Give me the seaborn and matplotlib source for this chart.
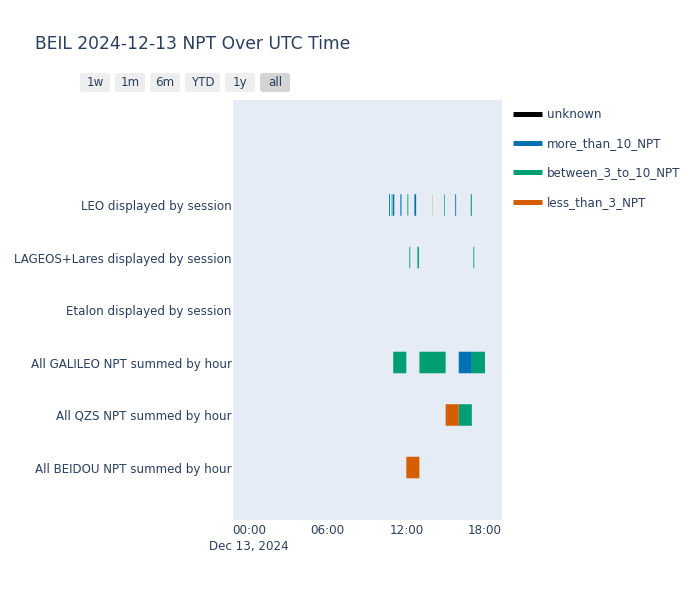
import numpy as np
import pandas as pd
import matplotlib
matplotlib.use("Agg")
import matplotlib.pyplot as plt
import matplotlib.dates as mdates
from matplotlib.patches import FancyBboxPatch
from matplotlib.lines import Line2D
import seaborn as sns

# ---------------- data ----------------
title = "BEIL 2024-12-13 NPT Over UTC Time"
day = "2024-12-13"
categories = [
    "All BEIDOU NPT summed by hour",
    "All QZS NPT summed by hour",
    "All GALILEO NPT summed by hour",
    "Etalon displayed by session",
    "LAGEOS+Lares displayed by session",
    "LEO displayed by session",
]
statuses = ["unknown", "more_than_10_NPT", "between_3_to_10_NPT", "less_than_3_NPT"]
status_colors = ["#000000", "#0072B2", "#009E73", "#D55E00"]

row = [
    "LEO displayed by session", "LEO displayed by session", "LEO displayed by session",
    "LEO displayed by session", "LEO displayed by session", "LEO displayed by session",
    "LEO displayed by session", "LEO displayed by session", "LEO displayed by session",
    "LEO displayed by session",
    "LAGEOS+Lares displayed by session", "LAGEOS+Lares displayed by session",
    "LAGEOS+Lares displayed by session",
    "All GALILEO NPT summed by hour", "All GALILEO NPT summed by hour",
    "All GALILEO NPT summed by hour", "All GALILEO NPT summed by hour",
    "All QZS NPT summed by hour", "All QZS NPT summed by hour",
    "All BEIDOU NPT summed by hour",
]
start = [
    "10:41", "10:53", "10:58", "11:33", "12:05", "12:37", "13:58", "14:53", "15:44", "16:55",
    "12:14", "12:51", "17:07",
    "11:00", "13:00", "16:00", "17:00",
    "15:00", "16:00",
    "12:00",
]
end = [
    "10:45", "10:56", "11:05", "11:38", "12:09", "12:45", "13:59", "14:56", "15:48", "17:00",
    "12:18", "12:58", "17:11",
    "12:00", "15:00", "17:00", "18:00",
    "16:00", "17:00",
    "13:00",
]
status = [
    "more_than_10_NPT", "between_3_to_10_NPT", "more_than_10_NPT", "more_than_10_NPT",
    "between_3_to_10_NPT", "more_than_10_NPT", "less_than_3_NPT", "between_3_to_10_NPT",
    "more_than_10_NPT", "between_3_to_10_NPT",
    "between_3_to_10_NPT", "between_3_to_10_NPT", "between_3_to_10_NPT",
    "between_3_to_10_NPT", "between_3_to_10_NPT", "more_than_10_NPT", "between_3_to_10_NPT",
    "less_than_3_NPT", "between_3_to_10_NPT",
    "less_than_3_NPT",
]
tick_hours = ["00:00", "06:00", "12:00", "18:00"]
buttons = ["1w", "1m", "6m", "YTD", "1y", "all"]

# ---------------- style ----------------
sns.set_theme(style="white")
plt.rcParams["font.family"] = ["DejaVu Sans"]
TXT = "#2a3f5f"
FS = 8.6

df = pd.DataFrame({"row": row,
                   "start": pd.to_datetime([f"{day} {s}" for s in start]),
                   "end": pd.to_datetime([f"{day} {e}" for e in end]),
                   "status": status})
df["y"] = df["row"].map({c: i for i, c in enumerate(categories)})
df["left"] = mdates.date2num(df["start"])
df["width"] = mdates.date2num(df["end"]) - df["left"]
cmap = dict(zip(statuses, status_colors))

W, H = 700, 600
fig = plt.figure(figsize=(7, 6), dpi=100)
fig.patch.set_facecolor("white")
ax = fig.add_axes([233 / W, 1 - 520 / H, (502 - 233) / W, (520 - 100) / H])
ax.set_facecolor("#E5ECF6")

for st in statuses:
    sub = df[df["status"] == st]
    if len(sub):
        bars = ax.barh(sub["y"], sub["width"], left=sub["left"], height=0.41,
                       color=cmap[st], linewidth=0, antialiased=True)
        for b in bars:
            b.set_snap(False)

t0 = mdates.date2num(pd.Timestamp(day))
ax.set_xlim(t0 - 1.22 / 24, t0 + 19.30 / 24)
ax.set_ylim(-1, 7)
ticks = [t0 + int(h[:2]) / 24 for h in tick_hours]
labels = [tick_hours[0] + "\nDec 13, 2024"] + tick_hours[1:]
ax.set_xticks(ticks)
ax.set_xticklabels(labels, color=TXT, fontsize=FS, linespacing=1.25)
ax.set_yticks(range(len(categories)))
ax.set_yticklabels(categories, color=TXT, fontsize=FS, va="center_baseline")
ax.tick_params(axis="both", length=0)
ax.tick_params(axis="x", pad=3)
ax.tick_params(axis="y", pad=1)
ax.grid(False)
for s in ax.spines.values():
    s.set_visible(False)

fig.text(35 / W, 1 - 44 / H, title, fontsize=12.3, color=TXT, va="center", ha="left")

# range selector buttons
bx = [(80, 110), (115, 145), (150, 180), (185, 220), (225, 255), (260, 290)]
for (x0, x1), b in zip(bx, buttons):
    col = "#d4d4d4" if b == "all" else "#eeeeee"
    p = FancyBboxPatch((x0 / W, 1 - 92 / H), (x1 - x0) / W, 19 / H,
                       boxstyle="round,pad=0,rounding_size=0.004",
                       transform=fig.transFigure, facecolor=col, edgecolor="none")
    fig.add_artist(p)
    fig.text((x0 + x1) / 2 / W, 1 - 82.5 / H, b, fontsize=FS, color=TXT,
             ha="center", va="center")

handles = [Line2D([0], [0], color=c, lw=3.6, solid_capstyle="butt") for c in status_colors]
fig.legend(handles, statuses, loc="upper left", bbox_to_anchor=(513 / W, 1 - 108 / H),
           frameon=False, fontsize=FS, labelcolor=TXT, handlelength=2.4,
           handletextpad=0.45, labelspacing=1.36, borderpad=0, borderaxespad=0)

fig.savefig("out.png", dpi=100)
